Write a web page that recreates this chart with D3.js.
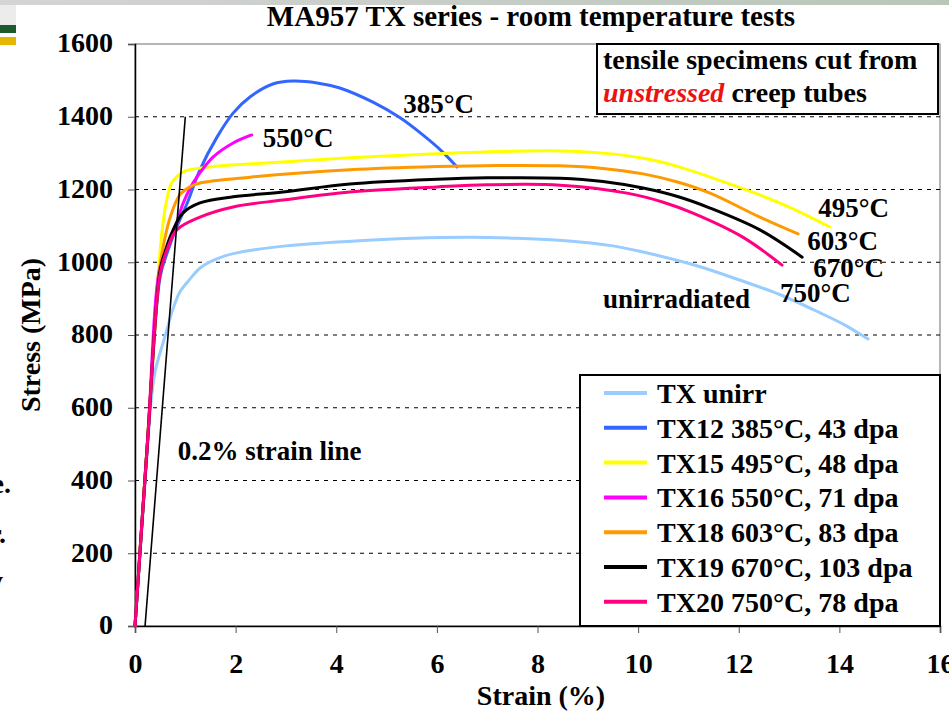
<!DOCTYPE html>
<html lang="en">
<head>
    <meta charset="UTF-8">
    <title>MA957 TX series - room temperature tests</title>
    <script src="https://d3js.org/d3.v7.min.js"></script>
    <style>
        body {
            margin: 0;
            background-color: #ffffff;
        }
        svg {
            display: block;
            font-family: "Liberation Serif", "Times New Roman", serif;
            font-weight: bold;
        }
    </style>
</head>
<body>

<svg width="949" height="713"></svg>

<script>
    // ---- data (strain %, stress MPa) ----
    const strainTicks = [0, 2, 4, 6, 8, 10, 12, 14, 16];
    const stressTicks = [0, 200, 400, 600, 800, 1000, 1200, 1400, 1600];

    const legendNames = ["TX unirr", "TX12 385°C, 43 dpa", "TX15 495°C, 48 dpa", "TX16 550°C, 71 dpa",
                         "TX18 603°C, 83 dpa", "TX19 670°C, 103 dpa", "TX20 750°C, 78 dpa"];

    const txUnirr = [[0, 0], [0.15, 300], [0.3, 590], [0.4, 700], [0.55, 775], [0.65, 822], [0.75, 870],
        [0.9, 920], [1.1, 955], [1.3, 985], [1.6, 1008], [2.0, 1025], [3.0, 1045], [4.3, 1058], [5.5, 1066],
        [6.7, 1069], [7.6, 1066], [8.5, 1060], [9.5, 1045], [10.1, 1028], [11.1, 993], [12.0, 952],
        [12.8, 912], [13.6, 862], [14.1, 828], [14.57, 789]];
    const tx12 = [[0, 0], [0.25, 500], [0.5, 960], [0.65, 1030], [0.83, 1097], [1.03, 1160], [1.29, 1254],
        [1.63, 1344], [1.95, 1410], [2.29, 1455], [2.74, 1490], [3.14, 1498], [3.62, 1493], [4.07, 1479],
        [4.73, 1440], [5.27, 1397], [5.72, 1350], [6.1, 1305], [6.4, 1262]];
    const tx15 = [[0, 0], [0.25, 520], [0.48, 1000], [0.56, 1110], [0.63, 1171], [0.73, 1218], [0.95, 1248],
        [1.49, 1262], [2.62, 1273], [4.27, 1287], [6.0, 1298], [7.5, 1305], [8.45, 1306], [9.3, 1300],
        [10.1, 1286], [10.8, 1263], [11.43, 1234], [12.42, 1185], [13.08, 1147], [13.81, 1097]];
    const tx16 = [[0, 0], [0.25, 510], [0.5, 990], [0.65, 1040], [0.8, 1095], [0.95, 1160], [1.1, 1205],
        [1.23, 1234], [1.55, 1289], [1.95, 1328], [2.32, 1350]];
    const tx18 = [[0, 0], [0.25, 510], [0.5, 990], [0.6, 1070], [0.7, 1124], [0.89, 1185], [1.1, 1208],
        [1.29, 1218], [2.29, 1234], [4.27, 1254], [6.0, 1263], [7.2, 1266], [8.45, 1265], [9.3, 1258],
        [10.1, 1243], [10.8, 1220], [11.43, 1190], [12.42, 1124], [13.18, 1078]];
    const tx19 = [[0, 0], [0.25, 510], [0.5, 980], [0.6, 1030], [0.73, 1080], [0.95, 1135], [1.29, 1163],
        [1.95, 1180], [2.94, 1193], [4.27, 1215], [6.0, 1228], [7.0, 1232], [8.45, 1231], [9.3, 1222],
        [10.1, 1204], [10.8, 1180], [11.43, 1149], [12.42, 1089], [13.26, 1014]];
    const tx20 = [[0, 0], [0.25, 510], [0.5, 970], [0.65, 1040], [0.83, 1089], [1.29, 1124], [1.95, 1152],
        [2.94, 1171], [4.27, 1193], [6.0, 1207], [7.0, 1213], [8.45, 1212], [9.78, 1190], [10.5, 1165],
        [11.09, 1135], [12.08, 1069], [12.86, 992]];
    const offsetLine = [[0.2, 0], [1.0, 1400]];   // 0.2% strain line

    const seriesData = [txUnirr, tx12, tx15, tx16, tx18, tx19, tx20];
    const seriesColors = ["#99ccff", "#3366ff", "#ffff00", "#ff00ff", "#ff9900", "#000000", "#ff0080"];

    // curve annotations: text, strain, stress (left/baseline)
    const annotations = [
        ["385°C", 5.33, 1410], ["550°C", 2.54, 1317], ["495°C", 13.58, 1124], ["603°C", 13.36, 1034],
        ["670°C", 13.48, 959], ["750°C", 12.82, 891], ["unirradiated", 9.30, 874], ["0.2% strain line", 0.85, 456]
    ];

    const svg = d3.select("svg");

    // ---- slide decoration ----
    const grad = svg.append("defs").append("linearGradient").attr("id", "topband");
    grad.append("stop").attr("offset", "0%").attr("stop-color", "#d4d4d4");
    grad.append("stop").attr("offset", "100%").attr("stop-color", "#b9c6b9");
    svg.append("rect").attr("x", 0).attr("y", 0).attr("width", 949).attr("height", 5).attr("fill", "url(#topband)");
    svg.append("rect").attr("x", 0).attr("y", 5).attr("width", 16).attr("height", 20).attr("fill", "#ececec");
    svg.append("rect").attr("x", 0).attr("y", 25).attr("width", 16).attr("height", 8).attr("fill", "#1f5a2c");
    svg.append("rect").attr("x", 0).attr("y", 37).attr("width", 16).attr("height", 8).attr("fill", "#e5b700");
    // cut-off text at the left edge
    svg.append("text").attr("x", 11).attr("y", 493).attr("text-anchor", "end").attr("font-size", 28).text("e.");
    svg.append("text").attr("x", 6).attr("y", 543).attr("text-anchor", "end").attr("font-size", 28).text("r.");
    svg.append("text").attr("x", 3).attr("y", 590).attr("text-anchor", "end").attr("font-size", 28).text("y");

    // ---- scales ----
    const plotLeft = 135, plotRight = 940, plotTop = 44, plotBottom = 626;
    const x = d3.scaleLinear().domain([0, 16]).range([plotLeft, plotRight]);
    const y = d3.scaleLinear().domain([0, 1600]).range([plotBottom, plotTop]);

    // title
    svg.append("text")
        .attr("x", 531).attr("y", 26)
        .attr("text-anchor", "middle")
        .attr("font-size", 29)
        .text("MA957 TX series - room temperature tests");

    // plot frame (top / right)
    svg.append("rect")
        .attr("x", plotLeft).attr("y", plotTop)
        .attr("width", plotRight - plotLeft).attr("height", plotBottom - plotTop)
        .attr("fill", "none").attr("stroke", "#6e6e6e").attr("stroke-width", 1);

    // dashed grid lines
    svg.append("g").selectAll("line")
        .data(stressTicks.filter(d => d > 0 && d < 1600))
        .enter().append("line")
        .attr("x1", plotLeft).attr("x2", plotRight)
        .attr("y1", d => y(d)).attr("y2", d => y(d))
        .attr("stroke", "#000").attr("stroke-width", 1)
        .attr("stroke-dasharray", "4,5");

    // axes
    const yAxis = svg.append("g")
        .attr("transform", `translate(${plotLeft},0)`)
        .call(d3.axisLeft(y).tickValues(stressTicks).tickFormat(d3.format("d")).tickSize(7).tickPadding(15));
    const xAxis = svg.append("g")
        .attr("transform", `translate(0,${plotBottom})`)
        .call(d3.axisBottom(x).tickValues(strainTicks).tickFormat(d3.format("d")).tickSize(7).tickPadding(20));

    [yAxis, xAxis].forEach(g => {
        g.attr("font-family", null).attr("font-size", null);
        g.select(".domain").attr("stroke", "#000").attr("stroke-width", 1.5);
        g.selectAll(".tick line").attr("stroke", "#555");
        g.selectAll(".tick text")
            .attr("font-family", "'Liberation Serif', 'Times New Roman', serif")
            .attr("font-weight", "bold")
            .attr("font-size", 28)
            .attr("fill", "#000");
    });
    yAxis.selectAll(".tick text").attr("dy", "0.28em");
    xAxis.selectAll(".tick text").attr("dy", "0.71em");

    // axis titles
    svg.append("text")
        .attr("x", 541).attr("y", 705)
        .attr("text-anchor", "middle").attr("font-size", 28)
        .text("Strain (%)");
    svg.append("text")
        .attr("transform", "translate(40,335) rotate(-90)")
        .attr("text-anchor", "middle").attr("font-size", 28)
        .text("Stress (MPa)");

    // ---- curves ----
    const line = d3.line()
        .x(d => x(d[0]))
        .y(d => y(d[1]))
        .curve(d3.curveCatmullRom.alpha(0.5));

    svg.append("g").selectAll("path")
        .data(seriesData)
        .enter().append("path")
        .attr("d", line)
        .attr("fill", "none")
        .attr("stroke", (d, i) => seriesColors[i])
        .attr("stroke-width", 3)
        .attr("stroke-linecap", "round");

    svg.append("path")
        .datum(offsetLine)
        .attr("d", d3.line().x(d => x(d[0])).y(d => y(d[1])))
        .attr("stroke", "#000").attr("stroke-width", 1.6).attr("fill", "none");

    // curve labels
    svg.append("g").selectAll("text")
        .data(annotations)
        .enter().append("text")
        .attr("x", d => x(d[1]))
        .attr("y", d => y(d[2]))
        .attr("font-size", 27)
        .text(d => d[0]);

    // note box, top right
    svg.append("rect")
        .attr("x", 597).attr("y", 44).attr("width", 341).attr("height", 70)
        .attr("fill", "#fff").attr("stroke", "#000").attr("stroke-width", 2);
    svg.append("text")
        .attr("x", 603).attr("y", 69).attr("font-size", 28)
        .text("tensile specimens cut from");
    const note2 = svg.append("text").attr("x", 603).attr("y", 102).attr("font-size", 28);
    note2.append("tspan").attr("fill", "#ee1111").attr("font-style", "italic").text("unstressed");
    note2.append("tspan").text(" creep tubes");

    // ---- legend ----
    const legend = svg.append("g");
    legend.append("rect")
        .attr("x", 580).attr("y", 375).attr("width", 360).attr("height", 251)
        .attr("fill", "#fff").attr("stroke", "#000").attr("stroke-width", 2);

    const rows = legend.selectAll("g.row")
        .data(legendNames)
        .enter().append("g")
        .attr("class", "row")
        .attr("transform", (d, i) => `translate(0,${403 + i * 34.8})`);
    rows.append("line")
        .attr("x1", 604).attr("x2", 647)
        .attr("y1", -10).attr("y2", -10)
        .attr("stroke", (d, i) => seriesColors[i])
        .attr("stroke-width", 4);
    rows.append("text")
        .attr("x", 657).attr("y", 0)
        .attr("font-size", 28)
        .text(d => d);
</script>

</body>
</html>
